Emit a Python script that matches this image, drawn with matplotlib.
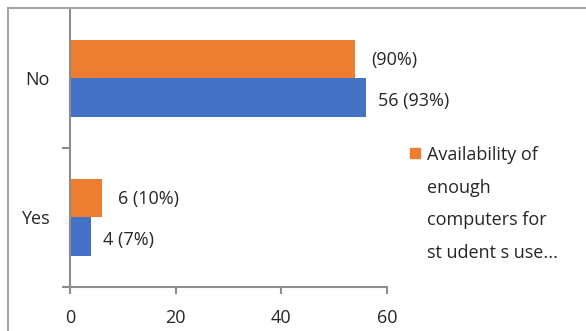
import matplotlib
matplotlib.use('Agg')
import matplotlib.pyplot as plt
from matplotlib.lines import Line2D
from matplotlib.patches import Rectangle
import numpy as np

plt.rcParams['font.family'] = ['Open Sans', 'DejaVu Sans']

categories = ["Yes", "No"]
blue_vals = [4, 56]
orange_vals = [6, 54]
blue_labels = ["4 (7%)", "56 (93%)"]
orange_labels = ["6 (10%)", "(90%)"]
legend_text = "Availability of\nenough\ncomputers for\nst udent s use..."

blue = '#4472C4'
orange = '#ED7D31'
grey = '#8c8c8c'
txt = '#262626'
fs = 13

fig = plt.figure(figsize=(5.86, 3.31), dpi=100)
ax = fig.add_axes([0.1195, 0.133, 0.541, 0.84])

y = np.arange(len(categories))
h = 0.28
b1 = ax.barh(y - h / 2, blue_vals, height=h, color=blue)
b2 = ax.barh(y + h / 2, orange_vals, height=h, color=orange)

for rect, lab in zip(b1, blue_labels):
    ax.text(rect.get_width() + 2.2, rect.get_y() + rect.get_height() / 2 - 0.02, lab,
            va='center', ha='left', fontsize=fs, color=txt)
for rect, lab in zip(b2, orange_labels):
    ax.text(rect.get_width() + 3.1, rect.get_y() + rect.get_height() / 2 - 0.01, lab,
            va='center', ha='left', fontsize=fs, color=txt)

ax.set_xlim(0, 60)
ax.set_ylim(-0.5, 1.5)
ax.set_xticks([0, 20, 40, 60])
ax.tick_params(axis='x', direction='out', length=5, width=1.5, color=grey,
               labelsize=fs, labelcolor=txt, pad=11)

# boundaries as major ticks, category names as minor ones
ax.set_yticks([-0.5, 0.5])
ax.set_yticklabels([])
ax.set_yticks(y, minor=True)
ax.set_yticklabels(categories, minor=True)
ax.tick_params(axis='y', which='major', direction='out', length=6, width=1.5, color=grey)
ax.tick_params(axis='y', which='minor', length=0, labelsize=fs, labelcolor=txt, pad=15)

for s in ['top', 'right']:
    ax.spines[s].set_visible(False)
for s in ['left', 'bottom']:
    ax.spines[s].set_color(grey)
    ax.spines[s].set_linewidth(1.5)

# legend drawn by hand so the swatch sits on the first line
fig.add_artist(Rectangle((410 / 586, 1 - 158 / 331), 10 / 586, 10 / 331,
                         transform=fig.transFigure, color=orange))
fig.text(427 / 586, 1 - 146 / 331, legend_text, ha='left', va='top',
         fontsize=fs, color=txt, linespacing=2.05)

# outer chart frame
fig.add_artist(Line2D([0.014, 0.014], [0.0, 0.976], transform=fig.transFigure,
                      color='#a6a6a6', lw=1.5))
fig.add_artist(Line2D([0.014, 1.0], [0.976, 0.976], transform=fig.transFigure,
                      color='#a6a6a6', lw=1.5))

fig.savefig('out.png', dpi=100)
